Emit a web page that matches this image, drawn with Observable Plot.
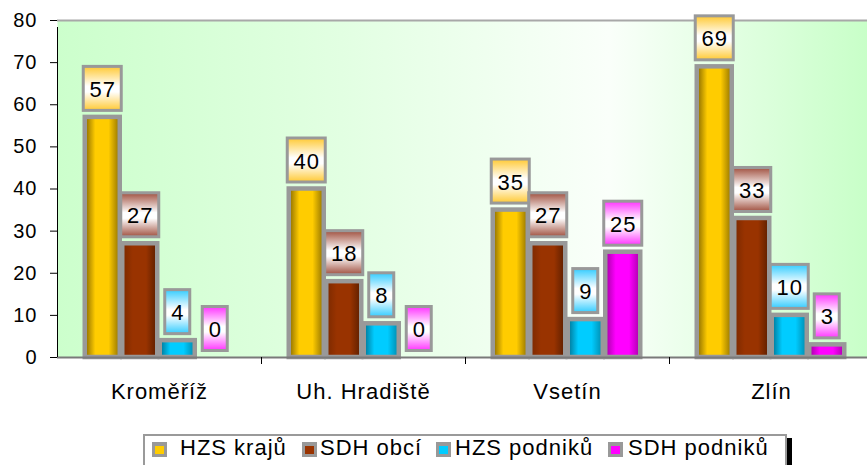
<!DOCTYPE html>
<html>
<head>
<meta charset="utf-8">
<script src="https://cdn.jsdelivr.net/npm/d3@7"></script>
<script src="https://cdn.jsdelivr.net/npm/@observablehq/plot@0.6"></script>
<style>
  html, body { margin: 0; padding: 0; background: #fff; overflow: hidden; }
  body { width: 867px; height: 465px; position: relative; font-family: "Liberation Sans", Arial, sans-serif; }
  #legend { position: absolute; left: 143px; top: 434px; width: 640px; height: 44px; border: 2px solid #9a9a9a; box-shadow: 5px 4px 0 #000; background: #fff; }
  #legend .mk { position: absolute; width: 15px; height: 15px; background: #999; }
  #legend .mk i { position: absolute; left: 3px; top: 4px; width: 9px; height: 8px; }
  #legend .tx { position: absolute; font-family: "Liberation Sans", Arial, sans-serif; font-size: 22px; line-height: 22px; letter-spacing: 1px; color: #000; white-space: nowrap; }
</style>
</head>
<body>
<div id="chart"></div>
<div id="legend"></div>
<script>
// ---- data ----
const categories = ["Kroměříž", "Uh. Hradiště", "Vsetín", "Zlín"];
const series = ["HZS krajů", "SDH obcí", "HZS podniků", "SDH podniků"];
const hzsKraju = [57, 40, 35, 69];
const sdhObci = [27, 18, 27, 33];
const hzsPodniku = [4, 8, 9, 10];
const sdhPodniku = [0, 0, 25, 3];
const yTicks = [0, 10, 20, 30, 40, 50, 60, 70, 80];

// ---- styling ----
const values = [hzsKraju, sdhObci, hzsPodniku, sdhPodniku];
const barGrad = [
  ["#846600", "#ffcc00", "#ffcc00", "#8f7000"],
  ["#7a2900", "#993300", "#993300", "#5a1e00"],
  ["#00708f", "#00ccff", "#00ccff", "#0088aa"],
  ["#a000a0", "#ff00ff", "#ff00ff", "#a800a8"]
];
const boxColor = ["#ffc933", "#a0503f", "#33ccff", "#ff33ff"];
const solid = ["#ffcc00", "#993300", "#00ccff", "#ff00ff"];

const rows = categories.flatMap((c, ci) => series.map((s, si) => ({cat: c, series: s, si, value: values[si][ci]})));

const X0 = 57, X1 = 873;
const BAND = (X1 - X0) / categories.length;
const OFF = 26.5, STEP = 37.5;

const marks = [
  Plot.frame({fill: "url(#bgGrad)", stroke: null}),
  Plot.ruleY([80], {stroke: "#a8a8a8", strokeWidth: 2})
];

series.forEach((s, si) => {
  const data = rows.filter(d => d.si === si);
  const left = OFF + si * STEP;
  const c = left + STEP / 2;
  marks.push(Plot.barY(data, {
    x: "cat", y1: 0, y2: "value",
    fill: `url(#bar${si})`, stroke: "#999", strokeWidth: 4.5,
    insetLeft: left + 1.25, insetRight: BAND - left - STEP + 1.25
  }));
  const two = data.filter(d => String(d.value).length > 1);
  const one = data.filter(d => String(d.value).length === 1);
  [[two, 19], [one, 12.5]].forEach(([dd, hw]) => {
    marks.push(Plot.barY(dd, {
      x: "cat", y1: "value", y2: "value",
      fill: `url(#box${si})`, stroke: "#999", strokeWidth: 3,
      insetLeft: c - hw, insetRight: BAND - c - hw,
      insetTop: -50.5, insetBottom: 6.5
    }));
  });
  marks.push(Plot.text(data, {
    x: "cat", y: "value", text: d => String(d.value),
    dx: c - BAND / 2, dy: -27.5, fontSize: 22, fill: "#000"
  }));
});

marks.push(
  Plot.ruleY([0], {stroke: "#7a7a7a", strokeWidth: 2}),
  Plot.ruleX(categories.slice(0, 1), {x: d => d, dx: -BAND / 2, y1: 0, y2: 80, insetBottom: -7, stroke: "#000", strokeWidth: 1}),
  Plot.ruleX(categories.slice(1), {x: d => d, dx: -BAND / 2, y1: 0, y2: 0, insetBottom: -7, stroke: "#000", strokeWidth: 1}),
  Plot.text(categories, {x: d => d, y: 0, text: d => d, dy: 34, fontSize: 22, fill: "#000"})
);

const svg = Plot.plot({
  width: 867,
  height: 430,
  marginLeft: 57,
  marginRight: 0,
  marginTop: 20,
  marginBottom: 73,
  style: {fontFamily: "'Liberation Sans', Arial, sans-serif", fontSize: "20px", color: "#000", background: "transparent", letterSpacing: "1px", overflow: "visible"},
  x: {type: "band", domain: categories, range: [X0, X1], padding: 0, round: false, axis: null},
  y: {domain: [0, 80], ticks: yTicks.length - 1, tickSize: 7, tickPadding: 13, label: null, tickFormat: d => String(d)},
  marks
});

// gradients
const defs = d3.select(svg).insert("defs", ":first-child");
const bg = defs.append("linearGradient").attr("id", "bgGrad").attr("x1", 0).attr("x2", 1).attr("y1", 0).attr("y2", 0);
[[0, "#ccffcc"], [0.35, "#e2ffe2"], [0.68, "#fafffa"], [1, "#c8ffc8"]].forEach(([o, col]) => bg.append("stop").attr("offset", o).attr("stop-color", col));
barGrad.forEach((g, i) => {
  const lg = defs.append("linearGradient").attr("id", `bar${i}`).attr("x1", 0).attr("x2", 1).attr("y1", 0).attr("y2", 0);
  [0, 0.3, 0.68, 1].forEach((o, k) => lg.append("stop").attr("offset", o).attr("stop-color", g[k]));
});
boxColor.forEach((col, i) => {
  const lg = defs.append("linearGradient").attr("id", `box${i}`).attr("x1", 0).attr("x2", 0).attr("y1", 0).attr("y2", 1);
  [[0, col], [0.45, "#ffffff"], [0.58, "#ffffff"], [1, col]].forEach(([o, c]) => lg.append("stop").attr("offset", o).attr("stop-color", c));
});

document.getElementById("chart").appendChild(svg);

// legend
const legend = document.getElementById("legend");
const mkX = [7, 157, 291, 463];
const txX = [35, 175, 310, 483];
series.forEach((s, i) => {
  const mk = document.createElement("div");
  mk.className = "mk";
  mk.style.left = mkX[i] + "px";
  mk.style.top = "6px";
  const inner = document.createElement("i");
  inner.style.background = solid[i];
  mk.appendChild(inner);
  legend.appendChild(mk);
  const tx = document.createElement("div");
  tx.className = "tx";
  tx.style.left = txX[i] + "px";
  tx.style.top = "1px";
  tx.textContent = s;
  legend.appendChild(tx);
});
</script>
</body>
</html>
